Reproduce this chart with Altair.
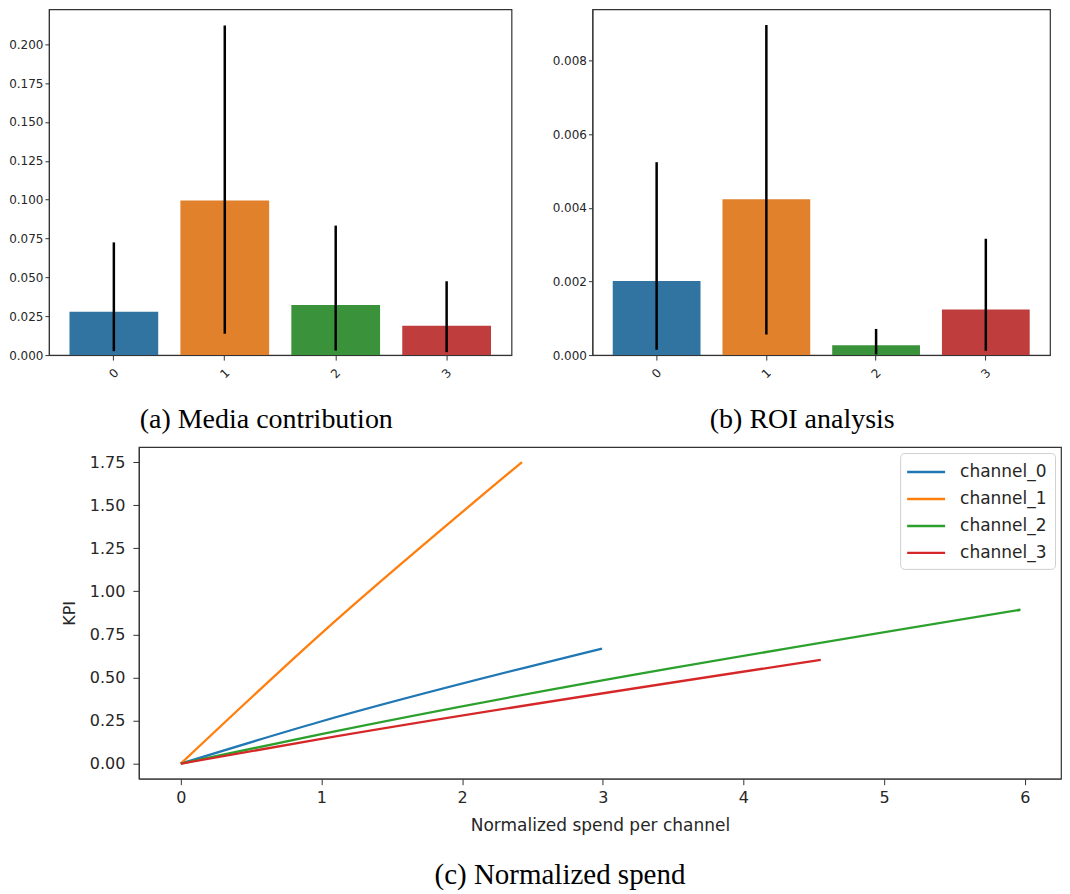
import altair as alt
import pandas as pd

# ---- data ----
channels = ["0", "1", "2", "3"]
contrib = [0.0279, 0.0995, 0.0322, 0.0189]
contrib_lo = [0.0025, 0.0137, 0.0029, 0.0019]
contrib_hi = [0.0725, 0.2120, 0.0833, 0.0475]

roi = [0.00201, 0.00423, 0.000266, 0.00124]
roi_lo = [0.000144, 0.00056, 0.00002, 0.000117]
roi_hi = [0.00524, 0.00897, 0.00071, 0.00316]

line_names = ["channel_0", "channel_1", "channel_2", "channel_3"]
spend_pts = [[0.0, 0.99, 2.995], [0.0, 0.99, 2.426], [0.0, 0.99, 5.97], [0.0, 0.99, 4.55]]
kpi_pts = [[0.0, 0.243, 0.668], [0.0, 0.749, 1.75], [0.0, 0.170, 0.893], [0.0, 0.142, 0.602]]

bar_colors = ["#3274a1", "#e1812c", "#3a923a", "#c03d3e"]
line_colors = ["#1f77b4", "#ff7f0e", "#2ca02c", "#d62728"]

FRAME = "#333333"
TXT = "#262626"
SANS = "DejaVu Sans"
SERIF = "Liberation Serif"


def bar_panel(values, lo, hi, ymax, yticks, caption, width, dx):
    df = pd.DataFrame({"channel": channels, "value": values, "lo": lo, "hi": hi})
    base = alt.Chart(df)
    xenc = alt.X(
        "channel:N",
        title=None,
        sort=channels,
        scale=alt.Scale(paddingInner=0.2, paddingOuter=0.185),
        axis=alt.Axis(labelAngle=315, labelAlign="center", labelBaseline="middle",
                      labelPadding=13, labelFontSize=12, labelFont=SANS, labelColor=TXT,
                      tickSize=5, tickColor=FRAME, domainColor=FRAME, grid=False),
    )
    bars = base.mark_bar().encode(
        x=xenc,
        y=alt.Y("value:Q", title=None,
                scale=alt.Scale(domain=[0, ymax], nice=False),
                axis=alt.Axis(values=yticks, format=".3f", labelFontSize=12, labelFont=SANS,
                              labelColor=TXT, tickSize=4, labelPadding=2, tickColor=FRAME,
                              domainColor=FRAME, grid=False)),
        color=alt.Color("channel:N", scale=alt.Scale(domain=channels, range=bar_colors), legend=None),
    )
    err = base.mark_rule(color="black", strokeWidth=2.5).encode(
        x=alt.X("channel:N", sort=channels), y="lo:Q", y2="hi:Q"
    )
    return (bars + err).properties(
        width=width, height=346,
        title=alt.TitleParams(text=caption, orient="bottom", font=SERIF, fontSize=28,
                              fontWeight="normal", color="black", offset=26, anchor="middle",
                              dx=dx),
    )


chart_a = bar_panel(contrib, contrib_lo, contrib_hi, 0.2224,
                    [0, 0.025, 0.05, 0.075, 0.1, 0.125, 0.15, 0.175, 0.2],
                    "(a) Media contribution", 463, -14)
chart_b = bar_panel(roi, roi_lo, roi_hi, 0.00939,
                    [0, 0.002, 0.004, 0.006, 0.008],
                    "(b) ROI analysis", 458, -19)

rows = []
for name, xs, ys in zip(line_names, spend_pts, kpi_pts):
    for x, y in zip(xs, ys):
        rows.append({"series": name, "spend": x, "kpi": y})
df_c = pd.DataFrame(rows)

chart_c = alt.Chart(df_c).mark_line(strokeWidth=2.3, interpolate="monotone").encode(
    x=alt.X("spend:Q", title="Normalized spend per channel",
            scale=alt.Scale(domain=[-0.298, 6.258], nice=False, zero=False),
            axis=alt.Axis(values=[0, 1, 2, 3, 4, 5, 6], format="d", labelFontSize=16, labelFont=SANS,
                          labelColor=TXT, tickSize=6, labelPadding=5, tickColor=FRAME,
                          domainColor=FRAME, grid=False, titleFont=SANS, titleFontSize=17,
                          titleFontWeight="normal", titleColor=TXT, titlePadding=12)),
    y=alt.Y("kpi:Q", title="KPI",
            scale=alt.Scale(domain=[-0.0875, 1.8375], nice=False, zero=False),
            axis=alt.Axis(values=[0, 0.25, 0.5, 0.75, 1.0, 1.25, 1.5, 1.75], format=".2f",
                          labelFontSize=16, labelFont=SANS, labelColor=TXT, tickSize=6,
                          labelPadding=8, tickColor=FRAME, domainColor=FRAME, grid=False,
                          titleFont=SANS, titleFontSize=16, titleFontWeight="normal",
                          titleColor=TXT, titlePadding=12)),
    color=alt.Color("series:N", scale=alt.Scale(domain=line_names, range=line_colors),
                    legend=alt.Legend(title=None, orient="top-right", offset=6, padding=8,
                                      labelFont=SANS, labelFontSize=17, labelColor=TXT,
                                      symbolType="M-2,0H2", symbolStrokeWidth=2.4, symbolSize=361,
                                      symbolOffset=7, labelOffset=23, rowPadding=8,
                                      strokeColor="#d0d0d0", fillColor="white", cornerRadius=4)),
).properties(
    width=923, height=332,
    title=alt.TitleParams(text="(c) Normalized spend", orient="bottom", font=SERIF, fontSize=29,
                          fontWeight="normal", color="black", offset=27, anchor="middle", dx=-40),
)

spacer = alt.Chart(pd.DataFrame({"a": [0]})).mark_point(opacity=0).encode(
    x=alt.value(0), y=alt.value(0)
).properties(width=40, height=1, view=alt.ViewBackground(stroke="transparent"))

row1 = (alt.hconcat(chart_a, chart_b, spacing=81, bounds="flush")
        .resolve_scale(color="independent").resolve_legend(color="independent"))
row2 = (alt.hconcat(spacer, chart_c, spacing=50, bounds="flush")
        .resolve_scale(color="independent").resolve_legend(color="independent"))

chart = (
    alt.vconcat(row1, row2, spacing=8)
    .resolve_scale(color="independent")
    .resolve_legend(color="independent")
    .properties(padding=0)
    .configure_view(stroke=FRAME, strokeWidth=1.2)
)

chart.save("out.html", embed_options={"renderer": "svg", "actions": False})
